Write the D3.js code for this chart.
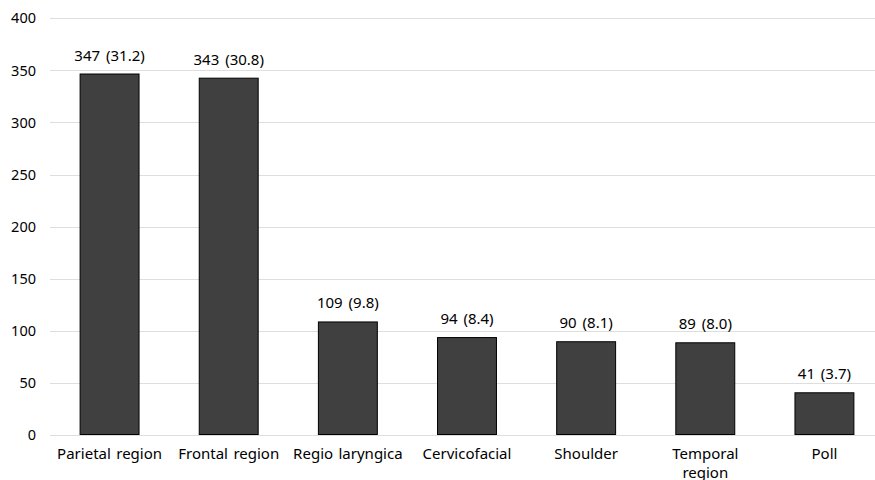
<!DOCTYPE html>
<html>
<head>
<meta charset="utf-8">
<script src="https://cdn.jsdelivr.net/npm/d3@7"></script>
<style>
  html, body { margin: 0; padding: 0; background: #fff; }
  svg { display: block; font-family: "Noto Sans", "Open Sans", sans-serif; }
</style>
</head>
<body>
<svg id="chart" width="875" height="480"></svg>
<script>
// Cases by anatomical region: count and percentage
const categories = ["Parietal region", "Frontal region", "Regio laryngica", "Cervicofacial", "Shoulder", "Temporal region", "Poll"];
const tickLabels = ["Parietal region", "Frontal region", "Regio laryngica", "Cervicofacial", "Shoulder", "Temporal\nregion", "Poll"];
const counts = [347, 343, 109, 94, 90, 89, 41];
const percents = ["31.2", "30.8", "9.8", "8.4", "8.1", "8.0", "3.7"];
const yTicks = [0, 50, 100, 150, 200, 250, 300, 350, 400];

const FONT = "\"Noto Sans\", \"Open Sans\", sans-serif";
const svg = d3.select("#chart");
const W = 875, H = 480;

const x = d3.scaleBand().domain(categories).range([50, 884]).paddingInner(0.497).paddingOuter(0.2485);
const y = d3.scaleLinear().domain([0, 400]).range([435, 18.3]);

// Horizontal gridlines
svg.append("g")
  .selectAll("line")
  .data(yTicks)
  .join("line")
  .attr("x1", 50).attr("x2", W)
  .attr("y1", d => Math.round(y(d)) + 0.5).attr("y2", d => Math.round(y(d)) + 0.5)
  .attr("stroke", "#dedede").attr("stroke-width", 1);

// Y axis labels
const yAxis = d3.axisLeft(y).tickValues(yTicks).tickSize(0).tickPadding(0);
const gy = svg.append("g").attr("transform", "translate(36,0)").call(yAxis);
gy.select(".domain").remove();
gy.selectAll("text").attr("font-size", 14.5).attr("fill", "#000").attr("font-family", FONT);

// Bars
svg.append("g")
  .selectAll("rect")
  .data(categories)
  .join("rect")
  .attr("x", d => x(d) + 0.5)
  .attr("y", (d, i) => y(counts[i]) + 0.5)
  .attr("width", x.bandwidth() - 1)
  .attr("height", (d, i) => y(0) - y(counts[i]) - 1)
  .attr("fill", "#404040")
  .attr("stroke", "#000")
  .attr("stroke-width", 1);

// Value labels above bars
svg.append("g")
  .selectAll("text")
  .data(categories)
  .join("text")
  .attr("x", d => x(d) + x.bandwidth() / 2)
  .attr("y", (d, i) => y(counts[i]) - 13)
  .attr("text-anchor", "middle")
  .attr("font-size", 15)
  .attr("font-family", FONT)
  .attr("word-spacing", 2)
  .attr("fill", "#000")
  .text((d, i) => `${counts[i]} (${percents[i]})`);

// Category labels (x axis), wrapped onto separate lines where needed
const xAxis = d3.axisBottom(x).tickSize(0).tickPadding(0).tickFormat((d, i) => tickLabels[i]);
const gx = svg.append("g").attr("transform", "translate(0,443)").call(xAxis);
gx.select(".domain").remove();
gx.selectAll("text")
  .attr("font-size", 15).attr("fill", "#000").attr("font-family", FONT)
  .attr("word-spacing", 1.5)
  .each(function(d, i) {
    const t = d3.select(this);
    const lines = tickLabels[i].split("\n");
    t.text(null).attr("dy", null).attr("y", 0);
    lines.forEach((ln, k) => {
      t.append("tspan").attr("x", 0).attr("y", 16 + k * 19).text(ln);
    });
  });
</script>
</body>
</html>
